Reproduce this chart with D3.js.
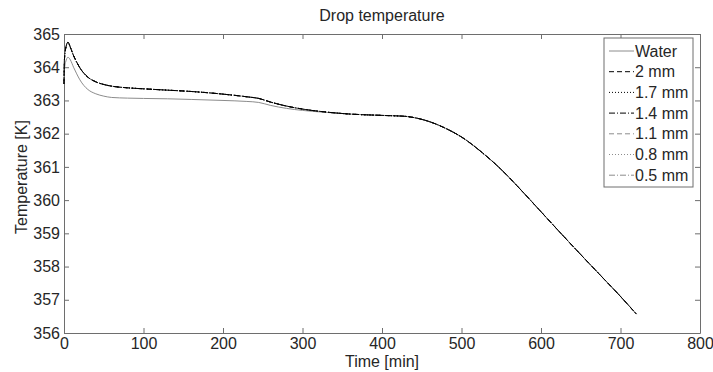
<!DOCTYPE html>
<html>
<head>
<meta charset="utf-8">
<script src="https://cdn.jsdelivr.net/npm/d3@7"></script>
<style>
  body { margin: 0; background: #fff; }
  text { font-family: "Liberation Sans", Arial, sans-serif; fill: #262626; }
</style>
</head>
<body>
<svg id="chart" width="713" height="372"></svg>
<script>
// time points [min]
var time = [0, 0.5, 2, 5, 8, 12, 16, 20, 25, 30, 40, 50, 60, 80, 100, 130, 160, 200, 230, 245,
            260, 280, 300, 330, 360, 400, 430, 445, 460, 480, 500, 525, 550, 575, 600, 625,
            650, 675, 700, 720];

// pure water drop temperature [K]
var water = [363.5, 363.9, 364.15, 364.3, 364.22, 364.0, 363.8, 363.62, 363.45, 363.33, 363.2,
             363.13, 363.09, 363.07, 363.06, 363.05, 363.03, 363.0, 362.97, 362.94,
             362.85, 362.76, 362.7, 362.64, 362.59, 362.55, 362.52, 362.46, 362.36, 362.16,
             361.9, 361.45, 360.92, 360.3, 359.65, 359.0, 358.36, 357.73, 357.1, 356.57];

// drops with particles -- all sizes lie on top of each other in the figure
var withParticles = [363.5, 364.2, 364.55, 364.75, 364.6, 364.35, 364.15, 363.98, 363.82, 363.7,
                     363.56, 363.48, 363.43, 363.38, 363.35, 363.31, 363.27, 363.19, 363.11, 363.06,
                     362.95, 362.83, 362.74, 362.65, 362.59, 362.55, 362.52, 362.46, 362.36, 362.16,
                     361.9, 361.45, 360.92, 360.3, 359.65, 359.0, 358.36, 357.73, 357.1, 356.57];

var seriesNames = ["Water", "2 mm", "1.7 mm", "1.4 mm", "1.1 mm", "0.8 mm", "0.5 mm"];
var seriesValues = [water, withParticles, withParticles, withParticles, withParticles, withParticles, withParticles];

var xTicks = [0, 100, 200, 300, 400, 500, 600, 700, 800];
var yTicks = [356, 357, 358, 359, 360, 361, 362, 363, 364, 365];

var lineColor = ["#8c8c8c", "#000", "#000", "#000", "#8c8c8c", "#8c8c8c", "#8c8c8c"];
var lineDash = [null, "5,3", "1,2", "6,2,1,2", "5,3", "1,2", "6,2,1,2"];

var svg = d3.select("#chart"),
    margin = {top: 34, right: 13, bottom: 39, left: 64},
    width = +svg.attr("width") - margin.left - margin.right,
    height = +svg.attr("height") - margin.top - margin.bottom,
    g = svg.append("g").attr("transform", "translate(" + margin.left + "," + margin.top + ")");

var x = d3.scaleLinear().domain([0, 800]).range([0, width]);
var y = d3.scaleLinear().domain([356, 365]).range([height, 0]);

var frameColor = "#6e6e6e";
var fontSize = "16px";

// axes, MATLAB style: ticks inside on all four sides
function styleAxis(sel) {
  sel.select(".domain").attr("stroke", frameColor);
  sel.selectAll(".tick line").attr("stroke", frameColor);
  sel.selectAll(".tick text").style("font-size", fontSize).attr("fill", "#262626");
}

g.append("g")
  .attr("transform", "translate(0," + height + ")")
  .call(d3.axisBottom(x).tickValues(xTicks).tickSizeInner(-5).tickSizeOuter(0).tickPadding(5))
  .call(styleAxis);

g.append("g")
  .call(d3.axisTop(x).tickValues(xTicks).tickSizeInner(-5).tickSizeOuter(0).tickFormat(""))
  .call(styleAxis);

g.append("g")
  .call(d3.axisLeft(y).tickValues(yTicks).tickSizeInner(-5).tickSizeOuter(0).tickPadding(4))
  .call(styleAxis);

g.append("g")
  .attr("transform", "translate(" + width + ",0)")
  .call(d3.axisRight(y).tickValues(yTicks).tickSizeInner(-5).tickSizeOuter(0).tickFormat(""))
  .call(styleAxis);

// curves
var line = d3.line()
    .x(function(d) { return x(d[0]); })
    .y(function(d) { return y(d[1]); })
    .curve(d3.curveMonotoneX);

var order = [0, 4, 5, 6, 1, 2, 3]; // gray ones below, black ones on top
order.forEach(function(i) {
  var pts = time.map(function(t, k) { return [t, seriesValues[i][k]]; });
  g.append("path")
    .datum(pts)
    .attr("fill", "none")
    .attr("stroke", lineColor[i])
    .attr("stroke-width", 1)
    .attr("stroke-dasharray", lineDash[i])
    .attr("d", line);
});

// title and labels
svg.append("text")
  .attr("x", margin.left + width / 2)
  .attr("y", 21)
  .attr("text-anchor", "middle")
  .style("font-size", fontSize)
  .text("Drop temperature");

svg.append("text")
  .attr("x", margin.left + width / 2)
  .attr("y", 367)
  .attr("text-anchor", "middle")
  .style("font-size", fontSize)
  .text("Time [min]");

svg.append("text")
  .attr("transform", "translate(27," + 177 + ") rotate(-90)")
  .attr("text-anchor", "middle")
  .style("font-size", fontSize)
  .text("Temperature [K]");

// legend
var legend = svg.append("g").attr("transform", "translate(604,38)");
legend.append("rect")
  .attr("width", 89)
  .attr("height", 149)
  .attr("fill", "#fff")
  .attr("stroke", frameColor);

var rowH = 20.7;
seriesNames.forEach(function(name, i) {
  var cy = 13 + i * rowH;
  legend.append("line")
    .attr("x1", 5).attr("x2", 30)
    .attr("y1", cy).attr("y2", cy)
    .attr("stroke", lineColor[i])
    .attr("stroke-dasharray", lineDash[i]);
  legend.append("text")
    .attr("x", 31)
    .attr("y", cy)
    .attr("dy", "0.35em")
    .style("font-size", fontSize)
    .text(name);
});
</script>
</body>
</html>
